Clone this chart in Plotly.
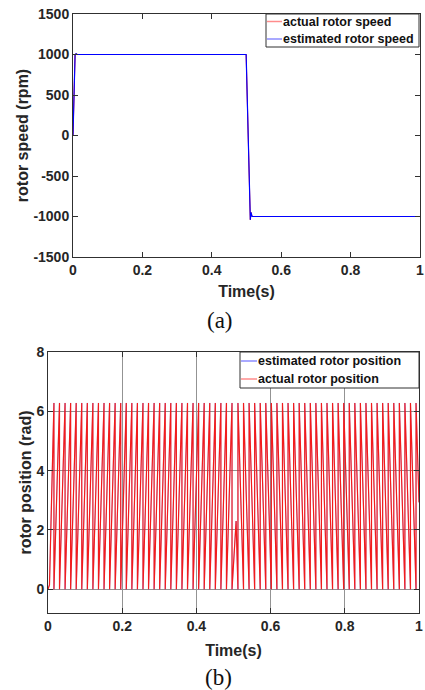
import plotly.graph_objects as go

W, H = 425, 690

# (a) rotor speed
speed_t_actual = [0.0, 0.006, 0.009, 0.012, 0.499, 0.503, 0.511, 0.513, 0.514, 0.516, 1.0]
speed_actual = [0, 1000, 1010, 1000, 1000, 230, -1040, -950, -1000, -1000, -1000]
speed_t_est = [0.0, 0.006, 0.009, 0.012, 0.499, 0.511, 0.513, 0.514, 0.516, 1.0]
speed_est = [0, 1000, 1010, 1000, 1000, -1040, -950, -1000, -1000, -1000]

# (b) rotor position: wrap instants of the sawtooth
pos_start_t = [0.0, 0.004]
pos_start = [0.0, 0.15]
fwd_wraps = [0.016, 0.031, 0.046, 0.061, 0.076, 0.091, 0.106, 0.121, 0.136, 0.151,
             0.166, 0.181, 0.196, 0.211, 0.226, 0.241, 0.256, 0.271, 0.286, 0.301,
             0.316, 0.331, 0.346, 0.361, 0.376, 0.391, 0.406, 0.421, 0.436, 0.451,
             0.466, 0.481, 0.496]
bump_t, bump = 0.507, 2.3
rev_wraps = [0.512, 0.527, 0.542, 0.557, 0.572, 0.587, 0.602, 0.617, 0.632, 0.647,
             0.662, 0.677, 0.692, 0.707, 0.722, 0.737, 0.752, 0.767, 0.782, 0.797,
             0.812, 0.827, 0.842, 0.857, 0.872, 0.887, 0.902, 0.917, 0.932, 0.947,
             0.962, 0.977, 0.992]
pos_end_t, pos_end = 1.0, 2.93
TWO_PI = 6.283

x_ticks = [0, 0.2, 0.4, 0.6, 0.8, 1]
x_labels = ["0", "0.2", "0.4", "0.6", "0.8", "1"]
speed_ticks = [-1500, -1000, -500, 0, 500, 1000, 1500]
speed_labels = ["-1500", "-1000", "-500", "0", "500", "1000", "1500"]
pos_ticks = [0, 2, 4, 6, 8]
pos_labels = ["0", "2", "4", "6", "8"]

# build the position polyline from the wrap instants
pos_t = list(pos_start_t)
pos = list(pos_start)
for t in fwd_wraps:
    pos_t += [t, t]
    pos += [TWO_PI, 0.0]
pos_t.append(bump_t)
pos.append(bump)
for t in rev_wraps:
    pos_t += [t, t]
    pos += [0.0, TWO_PI]
pos_t.append(pos_end_t)
pos.append(pos_end)


def px(x):
    return x / W


def py(y):
    return 1 - y / H


RED = "#ff0000"
BLUE = "#0000ff"
AX = "#303030"
FONT = "Liberation Sans"

fig = go.Figure()
fig.add_trace(go.Scatter(x=speed_t_actual, y=speed_actual, mode="lines",
                         line=dict(color=RED, width=1), xaxis="x", yaxis="y",
                         name="actual rotor speed"))
fig.add_trace(go.Scatter(x=speed_t_est, y=speed_est, mode="lines",
                         line=dict(color=BLUE, width=1.2), xaxis="x", yaxis="y",
                         name="estimated rotor speed"))
# estimated position sits exactly under the actual one
fig.add_trace(go.Scatter(x=pos_t, y=pos, mode="lines",
                         line=dict(color=BLUE, width=0.3), xaxis="x2", yaxis="y2",
                         name="estimated rotor position"))
fig.add_trace(go.Scatter(x=pos_t, y=pos, mode="lines",
                         line=dict(color="#f21c1c", width=1.2), xaxis="x2", yaxis="y2",
                         name="actual rotor position"))

tick_font = dict(family=FONT, size=14, color="#262626", weight="bold")
title_font = dict(family=FONT, size=16, color="#262626", weight="bold")
common = dict(showline=True, linecolor=AX, linewidth=1, mirror="ticks",
              ticks="inside", ticklen=5, tickcolor=AX, tickfont=tick_font,
              zeroline=False, automargin=False)

fig.update_layout(
    width=W, height=H,
    margin=dict(l=0, r=0, t=0, b=0),
    paper_bgcolor="white", plot_bgcolor="white",
    showlegend=False,
    xaxis=dict(domain=[px(73), px(420)], anchor="y", range=[0, 1],
               tickvals=x_ticks, ticktext=x_labels, showgrid=False,
               title=dict(text="Time(s)", font=title_font, standoff=9), **common),
    yaxis=dict(domain=[py(257), py(14)], anchor="x", range=[-1500, 1500],
               tickvals=speed_ticks, ticktext=speed_labels, showgrid=False,
               title=dict(text="rotor speed (rpm)", font=title_font, standoff=0), **common),
    xaxis2=dict(domain=[px(48), px(419)], anchor="y2", range=[0, 1],
                tickvals=x_ticks, ticktext=x_labels, showgrid=True,
                gridcolor="#939393", gridwidth=1,
                title=dict(text="Time(s)", font=title_font, standoff=12), **common),
    yaxis2=dict(domain=[py(613), py(352)], anchor="x2", range=[-0.8, 8],
                tickvals=pos_ticks, ticktext=pos_labels, showgrid=True,
                gridcolor="#939393", gridwidth=1,
                title=dict(text="rotor position (rad)", font=title_font, standoff=0), **common),
)

# legends drawn as boxes with short line samples (MATLAB style)
legend_font = dict(family=FONT, size=12.5, color="#111111", weight="bold")


def add_legend(x0, x1, y0, y1, sample_end, entries):
    fig.add_shape(type="rect", xref="paper", yref="paper",
                  x0=px(x0), x1=px(x1), y0=py(y1), y1=py(y0),
                  line=dict(color=AX, width=1), fillcolor="white", layer="above")
    for yy, color, label in entries:
        fig.add_shape(type="line", xref="paper", yref="paper",
                      x0=px(x0 + 1), x1=px(sample_end), y0=py(yy), y1=py(yy),
                      line=dict(color=color, width=1.5), layer="above")
        fig.add_annotation(x=px(sample_end), y=py(yy), xref="paper", yref="paper",
                           text=label, showarrow=False, xanchor="left",
                           yanchor="middle", font=legend_font, borderpad=0)


add_legend(266, 419, 14, 47, 282,
           [(21.5, "#ff8c8c", "actual rotor speed"), (39, "#8c8cff", "estimated rotor speed")])
add_legend(240, 419, 352, 388, 257,
           [(361, "#8c8cff", "estimated rotor position"), (379, "#ff8c8c", "actual rotor position")])

cap_font = dict(family="Liberation Serif", size=23, color="#111111")
fig.add_annotation(x=px(220), y=py(320), xref="paper", yref="paper", text="(a)",
                   showarrow=False, font=cap_font, xanchor="center", yanchor="middle")
fig.add_annotation(x=px(218), y=py(677), xref="paper", yref="paper", text="(b)",
                   showarrow=False, font=cap_font, xanchor="center", yanchor="middle")

# drop the browser's default body margin so the figure sits at the page origin
fig.write_html("out.html", config={"displayModeBar": False},
               post_script="document.body.style.margin='0';")
